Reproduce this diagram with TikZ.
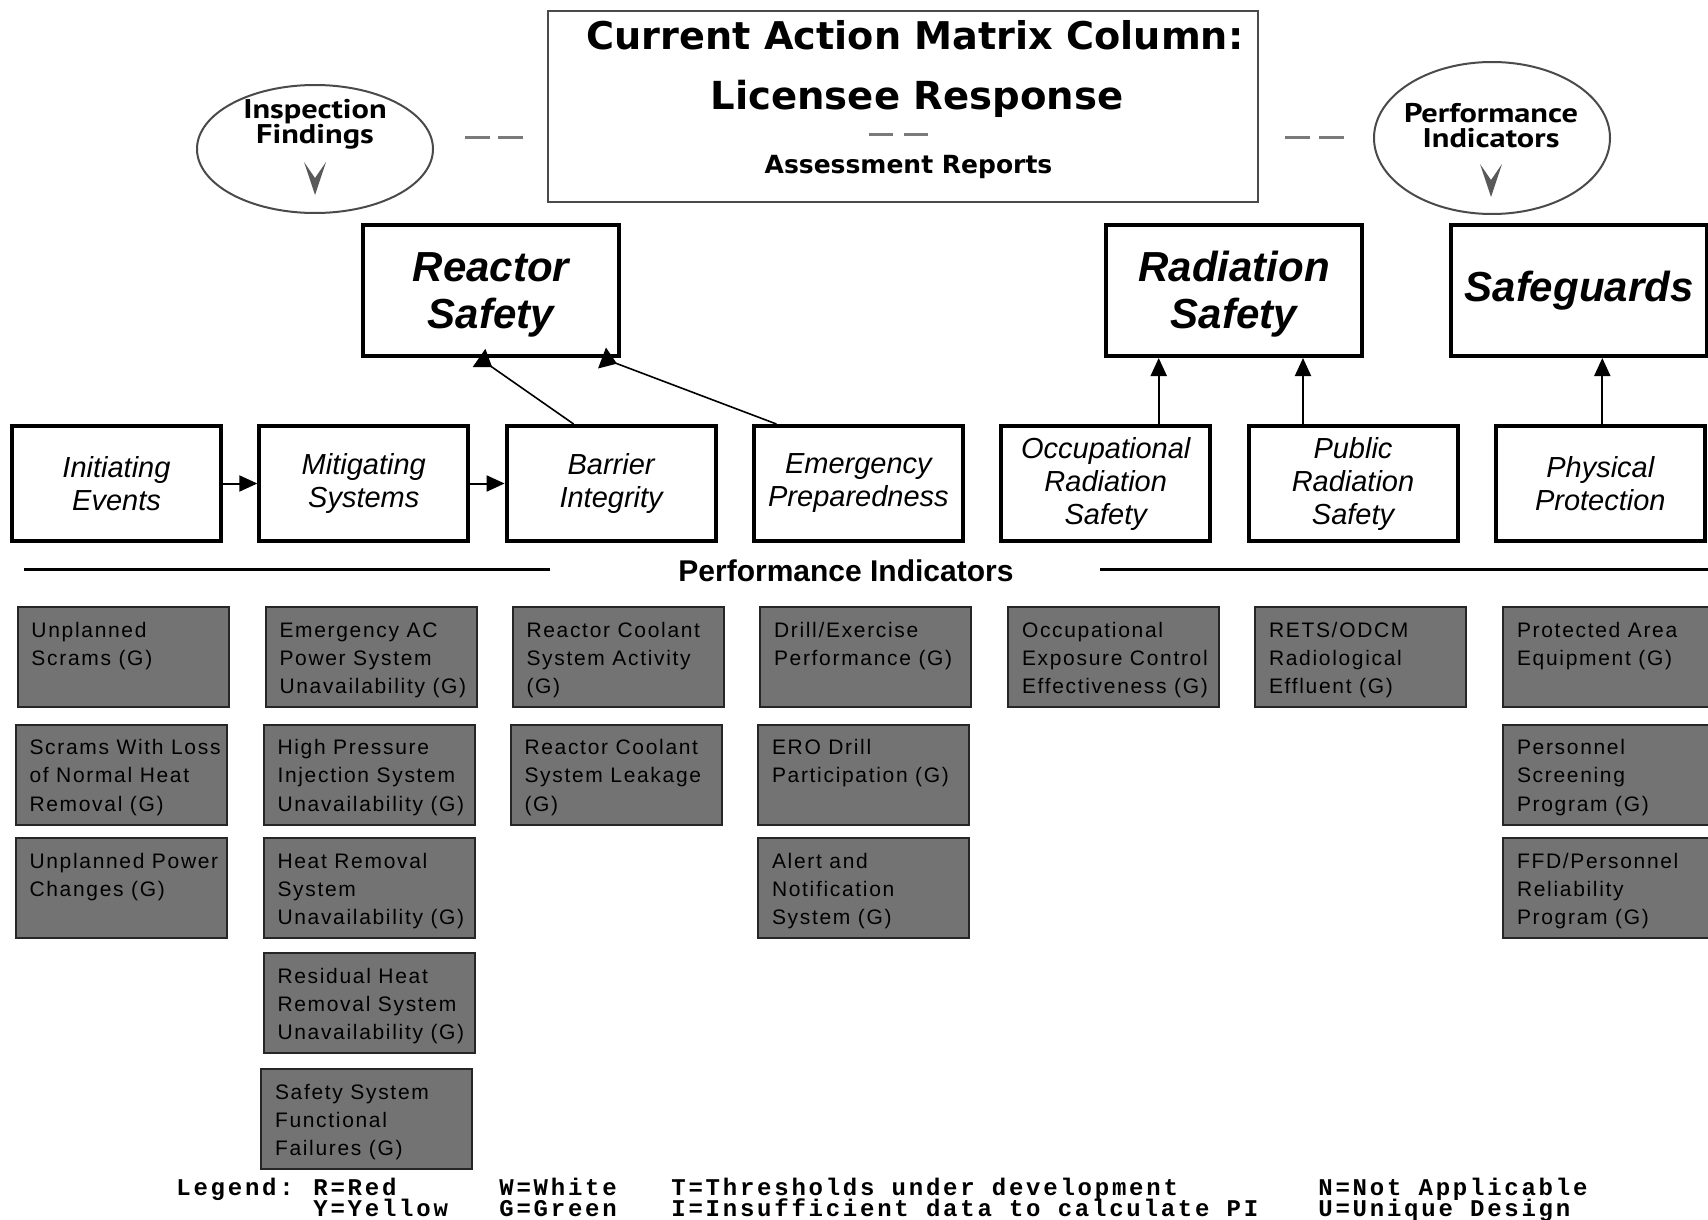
\documentclass[tikz,border=0pt]{standalone}
\usepackage{fontspec}
\setmainfont{Liberation Sans}
\newfontfamily\titlefont{DejaVu Sans}
\newfontfamily\ovalfont[FakeStretch=1.2]{PT Sans}
\newfontfamily\legendfont[LetterSpace=11.5]{Liberation Mono}
\newfontfamily\pifont[LetterSpace=8]{Liberation Sans}
\usetikzlibrary{arrows.meta,shapes.geometric}
\definecolor{pigray}{HTML}{737373}
\definecolor{dashgray}{HTML}{7A7A7A}
\definecolor{rimgray}{HTML}{4A4A4A}
\newcommand{\pitext}[1]{\parbox[c][44pt][t]{91.5pt}{\pifont\fontsize{10.5}{14.2}\selectfont\rule{0pt}{12pt}\begin{tabular}[t]{@{}l@{}}#1\end{tabular}}}
\begin{document}
\begin{tikzpicture}[x=0.5pt,y=-0.5pt,
  catbox/.style={draw,line width=2pt,minimum width=104.5pt,minimum height=57.5pt,inner sep=0pt,align=center,font=\fontsize{14.5}{16.5}\selectfont\itshape},
  areabox/.style={draw,line width=2pt,minimum width=128pt,minimum height=65.5pt,inner sep=0pt},
  areatext/.style={inner sep=0pt,align=center,font=\fontsize{21}{23.5}\selectfont\bfseries\itshape},
  pibox/.style={draw=black!85,line width=1pt,fill=pigray,minimum width=105.5pt,minimum height=50pt,inner sep=0pt},
  arr/.style={line width=1pt,-{Triangle[length=9pt,width=8pt]}},
  arrrev/.style={line width=0.8pt,-{Triangle[reversed,length=8pt,width=11pt]}},
  dashseg/.style={draw=dashgray,line width=1.5pt},
  oval/.style={ellipse,draw=rimgray,line width=1pt,inner sep=0pt},
  ovaltext/.style={align=center,inner sep=0pt,font=\ovalfont\bfseries\fontsize{13.5}{12.5}\selectfont},
  chev/.style={fill=black!65},
  legend/.style={anchor=base west,inner sep=0pt,font=\legendfont\bfseries\fontsize{12}{13}\selectfont},
  heading/.style={font=\bfseries\fontsize{15}{17}\selectfont}
]
\path[use as bounding box,fill=white] (0,0) rectangle (1708,1220);

% title box
\node[draw=rimgray,line width=1pt,minimum width=355pt,minimum height=95.5pt,inner sep=0pt] (top) at (903,106.5) {};
\node[anchor=base,inner sep=0pt,font=\titlefont\bfseries\fontsize{19.1}{22}\selectfont] (t1) at (915,50) {Current Action Matrix Column:};
\node[anchor=base,inner sep=0pt,font=\titlefont\bfseries\fontsize{19.3}{22}\selectfont] (t2) at (917,110) {Licensee Response};
\node[anchor=base,inner sep=0pt,font=\titlefont\bfseries\fontsize{12.5}{14}\selectfont] (t3) at (908.5,173) {Assessment Reports};
\coordinate (d1a) at (869,135); \coordinate (d1b) at (893,135);
\coordinate (d2a) at (904,135); \coordinate (d2b) at (928,135);
\draw[dashseg] (d1a) -- (d1b); \draw[dashseg] (d2a) -- (d2b);

% ellipses
\node[oval,minimum width=118pt,minimum height=64pt] (insp) at (315,149) {};
\node[ovaltext] (inspt) at (315,124) {Inspection\\Findings};
\fill[chev] (304,162) -- (315,195) -- (326,162) -- (315,178) -- cycle;
\node[oval,minimum width=118pt,minimum height=76pt] (perf) at (1492,138) {};
\node[ovaltext] (perft) at (1491,126) {Performance\\Indicators};
\fill[chev] (1480,164) -- (1491,197) -- (1502,164) -- (1491,180) -- cycle;

% dashes between ellipses and title box
\coordinate (l1a) at (465,138); \coordinate (l1b) at (490,138);
\coordinate (l2a) at (498,138); \coordinate (l2b) at (523,138);
\draw[dashseg] (l1a) -- (l1b); \draw[dashseg] (l2a) -- (l2b);
\coordinate (r1a) at (1285,138); \coordinate (r1b) at (1310,138);
\coordinate (r2a) at (1319,138); \coordinate (r2b) at (1344,138);
\draw[dashseg] (r1a) -- (r1b); \draw[dashseg] (r2a) -- (r2b);

% area boxes
\node[areabox] (RS) at (491,290.5) {};
\node[areatext] (RSt) at ([yshift=-2pt]RS.center) {Reactor\\Safety};
\node[areabox] (RadS) at (1234,290.5) {};
\node[areatext] (RadSt) at ([yshift=-2pt]RadS.center) {Radiation\\Safety};
\node[areabox] (SG) at (1579,290.5) {};
\node[areatext] (SGt) at (SG.center) {Safeguards};

% cornerstone boxes
\node[catbox] (IE) at (116.5,483.5) {Initiating\\Events};
\node[catbox] (MS) at (363.8,483.5) {Mitigating\\Systems};
\node[catbox] (BI) at (611.1,483.5) {Barrier\\Integrity};
\node[catbox] (EP) at (858.4,483.5) {Emergency\\Preparedness};
\node[catbox] (ORS) at (1105.7,483.5) {Occupational\\Radiation\\Safety};
\node[catbox] (PRS) at (1353.0,483.5) {Public\\Radiation\\Safety};
\node[catbox] (PP) at (1600.3,483.5) {Physical\\Protection};

% connectors
\draw[arr] (IE.east) -- (MS.west);
\draw[arr] (MS.east) -- (BI.west);
\draw[arrrev] ([xshift=-18.75pt]BI.north) -- ([xshift=-6pt]RS.south);
\draw[arrrev] ([xshift=-41pt]EP.north) -- ([xshift=55.5pt]RS.south);
\draw[arr] ([xshift=26.5pt]ORS.north) -- ([xshift=26.5pt]ORS.north |- RadS.south);
\draw[arr] ([xshift=-25pt]PRS.north) -- ([xshift=-25pt]PRS.north |- RadS.south);
\draw[arr] ([xshift=1pt]PP.north) -- ([xshift=1pt]PP.north |- SG.south);

% performance indicators heading
\node[heading] (ph) at (846,571) {Performance Indicators};
\coordinate (hl1) at (24,569); \coordinate (hl2) at (550,569);
\coordinate (hr1) at (1100,569); \coordinate (hr2) at (1708,569);
\draw[line width=1.5pt] (hl1) -- (hl2);
\draw[line width=1.5pt] (hr1) -- (hr2);

% performance indicator boxes
\node[pibox] (p11) at (123,657) {\pitext{Unplanned\\Scrams (G)}};
\node[pibox] (p12) at (121,774.5) {\pitext{Scrams With Loss\\of Normal Heat\\Removal (G)}};
\node[pibox] (p13) at (121,888) {\pitext{Unplanned Power\\Changes (G)}};
\node[pibox] (p21) at (371,657) {\pitext{Emergency AC\\Power System\\Unavailability (G)}};
\node[pibox] (p22) at (369,774.5) {\pitext{High Pressure\\Injection System\\Unavailability (G)}};
\node[pibox] (p23) at (369,888) {\pitext{Heat Removal\\System\\Unavailability (G)}};
\node[pibox] (p24) at (369,1003) {\pitext{Residual Heat\\Removal System\\Unavailability (G)}};
\node[pibox] (p25) at (366.5,1119) {\pitext{Safety System\\Functional\\Failures (G)}};
\node[pibox] (p31) at (618,657) {\pitext{Reactor Coolant\\System Activity\\(G)}};
\node[pibox] (p32) at (616,774.5) {\pitext{Reactor Coolant\\System Leakage\\(G)}};
\node[pibox] (p41) at (865.5,657) {\pitext{Drill/Exercise\\Performance (G)}};
\node[pibox] (p42) at (863.5,774.5) {\pitext{ERO Drill\\Participation (G)}};
\node[pibox] (p43) at (863.5,888) {\pitext{Alert and\\Notification\\System (G)}};
\node[pibox] (p51) at (1113.5,657) {\pitext{Occupational\\Exposure Control\\Effectiveness (G)}};
\node[pibox] (p61) at (1360.5,657) {\pitext{RETS/ODCM\\Radiological\\Effluent (G)}};
\node[pibox] (p71) at (1608.5,657) {\pitext{Protected Area\\Equipment (G)}};
\node[pibox] (p72) at (1608.5,774.5) {\pitext{Personnel\\Screening\\Program (G)}};
\node[pibox] (p73) at (1608.5,888) {\pitext{FFD/Personnel\\Reliability\\Program (G)}};

% legend
\node[legend] (lg) at (176,1195) {Legend:};
\node[legend] (lgR) at (313,1195) {R=Red};
\node[legend] (lgY) at (313,1216) {Y=Yellow};
\node[legend] (lgW) at (499,1195) {W=White};
\node[legend] (lgG) at (499,1216) {G=Green};
\node[legend] (lgT) at (671,1195) {T=Thresholds under development};
\node[legend] (lgI) at (671,1216) {I=Insufficient data to calculate PI};
\node[legend] (lgN) at (1318,1195) {N=Not Applicable};
\node[legend] (lgU) at (1318,1216) {U=Unique Design};
\end{tikzpicture}
\end{document}
